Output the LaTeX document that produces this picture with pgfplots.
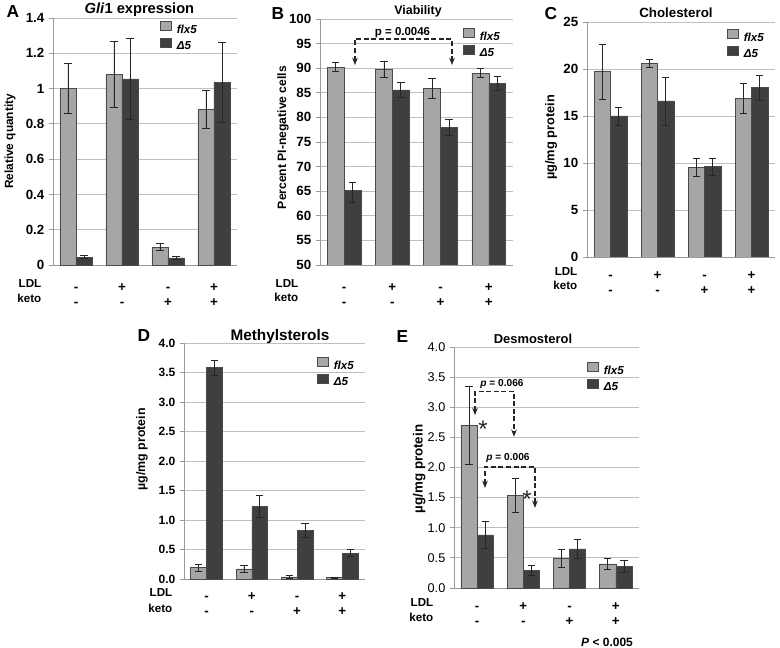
\documentclass[border=0pt]{standalone}
\usepackage{fontspec}
\setmainfont{Liberation Sans}
\usepackage{pgfplots}
\pgfplotsset{compat=1.18}
\usetikzlibrary{arrows.meta}
\newdimen\px \px=0.75pt
\newcommand\fs[1]{\fontsize{#1}{#1}\selectfont}
\definecolor{lightbar}{HTML}{A6A6A6}
\definecolor{darkbar}{HTML}{3F3F3F}
\definecolor{gridc}{HTML}{BFBFBF}
\definecolor{axc}{HTML}{9A9A9A}
\definecolor{edgec}{HTML}{4A4A4A}

\tikzset{
  ann/.style={dash pattern=on 3.75pt off 1.9pt, line width=1.3pt, black!85,
    {Stealth[length=5.5pt,width=4.2pt]}-{Stealth[length=5.5pt,width=4.2pt]}},
  rowlbl/.style={anchor=base east, font=\fs{8.7}\bfseries},
  star/.style={anchor=base, font=\fs{18}, text=black!85},
}

\pgfplotsset{
  panel/.style={
    scale only axis, anchor=north west,
    xmin=-0.5, xmax=3.5,
    xtick={0,1,2,3}, xticklabels={-,+,-,+},
    extra x ticks={0,1,2,3}, extra x tick labels={-,-,+,+},
    extra x tick style={xticklabel style={yshift=-15\px}, grid=none},
    xtick style={draw=none},
    xticklabel style={anchor=base, font=\fs{10}\bfseries},
    axis x line*=bottom, axis y line*=left,
    axis line style={draw=axc, line width=0.6pt, -},
    ymajorgrids, grid style={draw=gridc, line width=0.6pt},
    ytick style={draw=axc, line width=0.6pt},
    tick align=outside, major tick length=4\px,
    /pgf/number format/assume math mode=true,
    clip mode=individual,
    legend style={draw=none, fill=none, inner sep=0pt, outer sep=0pt,
      anchor=north west, row sep=2.5\px, column sep=5\px,
      font=\fs{8.7}\bfseries\itshape, nodes={inner sep=0pt, outer sep=0pt}},
    legend cell align=left,
    every axis title/.style={anchor=base},
    ylabel style={anchor=center},
  },
  sqlegend/.style={legend image code/.code={
    \draw[##1,/tikz/.cd, draw=edgec, line width=0.6pt] (0pt,-0.5\px) rectangle (11\px,8.5\px);}},
  bars/.style={ybar, bar width=0.35, bar shift=0pt, draw=edgec, line width=0.5pt, sqlegend,
    error bars/.cd, y dir=both, y explicit,
    error bar style={line width=0.6pt, black!85},
    error mark options={rotate=90, line width=0.6pt, black!85, mark size=3.7\px}},
  flx/.style={fill=lightbar, bars},
  dlt/.style={fill=darkbar, bars},
}

\begin{document}
\begin{tikzpicture}
\path[use as bounding box] (0,0) rectangle (780\px,-648\px);

% ---------------- A: Gli1 expression
\begin{axis}[panel, at={(53\px,-18\px)}, width=184\px, height=247\px,
  ymin=0, ymax=1.4, ytick={0,0.2,0.4,0.6,0.8,1,1.2,1.4},
  yticklabel style={font=\fs{10}\bfseries},
  xticklabel style={yshift=-22\px},
  title={\textit{Gli}1 expression},
  title style={at={(axis description cs:0.47,1)}, yshift=4\px, font=\fs{11}\bfseries},
  ylabel={Relative quantity},
  ylabel style={at={(axis description cs:-0.234,0.5)}, font=\fs{8.9}\bfseries},
  legend style={at={(0.582,0.988)}},
]
\addplot[flx] coordinates {(-0.175,1.00) +- (0,0.14) (0.825,1.08) +- (0,0.185) (1.825,0.10) +- (0,0.02) (2.825,0.88) +- (0,0.107)};
\addplot[dlt] coordinates {(0.175,0.045) +- (0,0.009) (1.175,1.055) +- (0,0.23) (2.175,0.040) +- (0,0.007) (3.175,1.035) +- (0,0.227)};
\legend{flx5, Δ5}
\node[rowlbl] at ([xshift=-7\px, yshift=-22\px]axis description cs:0,0) {LDL};
\node[rowlbl] at ([xshift=-7\px, yshift=-37\px]axis description cs:0,0) {keto};
\end{axis}

% ---------------- B: Viability
\begin{axis}[panel, at={(320\px,-19\px)}, width=193\px, height=246\px,
  ymin=50, ymax=100, ytick={50,55,...,100},
  yticklabel style={font=\fs{10}\bfseries},
  xticklabel style={yshift=-23\px},
  title={Viability},
  title style={at={(axis description cs:0.508,1)}, yshift=4\px, font=\fs{9.3}\bfseries},
  ylabel={Percent PI-negative cells},
  ylabel style={at={(axis description cs:-0.192,0.518)}, font=\fs{9.1}\bfseries},
  legend style={at={(0.741,0.963)}},
]
\addplot[flx] coordinates {(-0.175,90.2) +- (0,0.9) (0.825,89.8) +- (0,1.6) (1.825,85.9) +- (0,1.95) (2.825,89.0) +- (0,0.95)};
\addplot[dlt] coordinates {(0.175,65.1) += (0,1.6) -= (0,2.3) (1.175,85.6) +- (0,1.55) (2.175,78.0) +- (0,1.65) (3.175,86.9) +- (0,1.45)};
\legend{flx5, Δ5}
\draw[ann] (axis cs:0.225,90.65) -- (axis cs:0.225,95.93) -- (axis cs:2.236,95.93) -- (axis cs:2.236,90.65);
\node[anchor=base, font=\fs{8.6}\bfseries] at (axis cs:1.21,96.6) {p = 0.0046};
\node[rowlbl] at ([xshift=-17\px, yshift=-23\px]axis description cs:0,0) {LDL};
\node[rowlbl] at ([xshift=-17\px, yshift=-37\px]axis description cs:0,0) {keto};
\end{axis}

% ---------------- C: Cholesterol
\begin{axis}[panel, at={(587\px,-22\px)}, width=188\px, height=235\px,
  ymin=0, ymax=25, ytick={0,5,...,25},
  yticklabel style={font=\fs{10}\bfseries},
  xticklabel style={yshift=-19\px},
  title={Cholesterol},
  title style={at={(axis description cs:0.473,1)}, yshift=4\px, font=\fs{10}\bfseries},
  ylabel={µg/mg protein},
  ylabel style={at={(axis description cs:-0.191,0.509)}, font=\fs{9.6}\bfseries},
  legend style={at={(0.745,0.970)}},
]
\addplot[flx] coordinates {(-0.175,19.8) += (0,2.8) -= (0,3.0) (0.825,20.6) +- (0,0.4) (1.825,9.5) +- (0,0.95) (2.825,16.9) +- (0,1.6)};
\addplot[dlt] coordinates {(0.175,15.0) +- (0,0.95) (1.175,16.6) += (0,2.5) -= (0,2.6) (2.175,9.6) +- (0,0.9) (3.175,18.0) +- (0,1.35)};
\legend{flx5, Δ5}
\node[rowlbl] at ([xshift=-5\px, yshift=-19\px]axis description cs:0,0) {LDL};
\node[rowlbl] at ([xshift=-5\px, yshift=-33\px]axis description cs:0,0) {keto};
\end{axis}

% ---------------- D: Methylsterols
\begin{axis}[panel, at={(184\px,-343\px)}, width=181\px, height=236\px,
  ymin=0, ymax=4, ytick={0,0.5,...,4},
  yticklabel style={font=\fs{9}\bfseries, /pgf/number format/.cd, fixed, fixed zerofill, precision=1},
  xticklabel style={yshift=-17\px},
  title={Methylsterols},
  title style={at={(axis description cs:0.53,1)}, yshift=3\px, font=\fs{11.5}\bfseries},
  ylabel={µg/mg protein},
  ylabel style={at={(axis description cs:-0.232,0.55)}, font=\fs{9.3}\bfseries},
  legend style={at={(0.735,0.941)}},
]
\addplot[flx] coordinates {(-0.175,0.19) +- (0,0.065) (0.825,0.17) +- (0,0.06) (1.825,0.035) +- (0,0.02) (2.825,0.02) +- (0,0.015)};
\addplot[dlt] coordinates {(0.175,3.58) +- (0,0.13) (1.175,1.23) +- (0,0.185) (2.175,0.83) +- (0,0.12) (3.175,0.44) +- (0,0.06)};
\legend{flx5, Δ5}
\node[rowlbl] at ([xshift=-7\px, yshift=-17\px]axis description cs:0,0) {LDL};
\node[rowlbl] at ([xshift=-7\px, yshift=-33\px]axis description cs:0,0) {keto};
\end{axis}

% ---------------- E: Desmosterol
\begin{axis}[panel, at={(454\px,-347\px)}, width=185\px, height=241\px,
  ymin=0, ymax=4, ytick={0,0.5,...,4},
  yticklabel style={font=\fs{9.5}, /pgf/number format/.cd, fixed, fixed zerofill, precision=1},
  xticklabel style={yshift=-18\px},
  title={Desmosterol},
  title style={at={(axis description cs:0.427,1)}, yshift=4\px, font=\fs{9.7}\bfseries},
  ylabel={µg/mg protein},
  ylabel style={at={(axis description cs:-0.188,0.494)}, font=\fs{10}\bfseries},
  legend style={at={(0.719,0.938)}},
]
\addplot[flx] coordinates {(-0.175,2.70) += (0,0.64) -= (0,0.65) (0.825,1.54) +- (0,0.285) (1.825,0.49) +- (0,0.15) (2.825,0.40) +- (0,0.085)};
\addplot[dlt] coordinates {(0.175,0.88) +- (0,0.225) (1.175,0.29) +- (0,0.08) (2.175,0.65) +- (0,0.165) (3.175,0.36) +- (0,0.095)};
\legend{flx5, Δ5}
\draw[ann] (axis cs:-0.046,2.87) -- (axis cs:-0.046,3.26) -- (axis cs:0.797,3.26) -- (axis cs:0.797,2.51);
\draw[ann] (axis cs:0.170,1.66) -- (axis cs:0.170,2.01) -- (axis cs:1.251,2.01) -- (axis cs:1.251,1.33);
\node[anchor=base, font=\fs{7.6}\bfseries] at (axis cs:0.538,3.34) {\textit{p} = 0.066};
\node[anchor=base, font=\fs{7.6}\bfseries] at (axis cs:0.668,2.11) {\textit{p} = 0.006};
\node[star] at (axis cs:0.130,2.50) {*};
\node[star] at (axis cs:1.080,1.34) {*};
\node[rowlbl] at ([xshift=-16\px, yshift=-18\px]axis description cs:0,0) {LDL};
\node[rowlbl] at ([xshift=-16\px, yshift=-33\px]axis description cs:0,0) {keto};
\end{axis}

% panel letters and footnote
\node[anchor=base west, font=\fs{13}\bfseries] at (2\px,-18\px) {A};
\node[anchor=base west, font=\fs{13}\bfseries] at (267\px,-20\px) {B};
\node[anchor=base west, font=\fs{13}\bfseries] at (540\px,-20\px) {C};
\node[anchor=base west, font=\fs{13}\bfseries] at (133\px,-341\px) {D};
\node[anchor=base west, font=\fs{13}\bfseries] at (392\px,-342\px) {E};
\node[anchor=base, font=\fs{9}\bfseries] at (607\px,-646\px) {\textit{P} < 0.005};
\end{tikzpicture}
\end{document}
